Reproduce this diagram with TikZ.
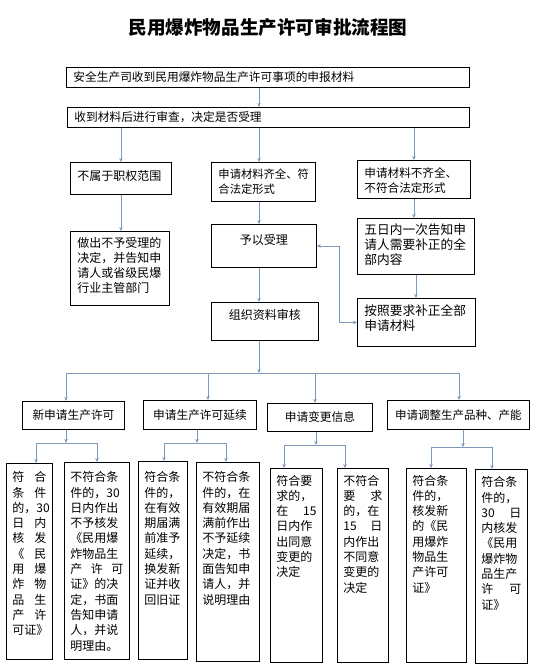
\documentclass[tikz,border=0pt]{standalone}
\usepackage{fontspec}
\setmainfont{Noto Sans CJK SC}
\usetikzlibrary{arrows.meta}
\definecolor{flow}{RGB}{125,152,184}
\tikzset{
  box/.style={draw, line width=0.9pt, anchor=north west, align=left,
    inner xsep=7pt, inner ysep=4pt, font=\fontsize{#1}{15.3}\selectfont},
  box/.default=12,
  cell/.style={box, inner xsep=6pt},
  line/.style={draw=flow, line width=0.8pt},
  arr/.style={line, -{Stealth[length=4pt,width=3.5pt]}},
}

\begin{document}
\begin{tikzpicture}[x=1pt, y=-1pt]
    \useasboundingbox (0,0) rectangle (533,668);
    \node[font=\fontsize{18.6}{20}\bfseries\selectfont] (title) at (268,27) {民用爆炸物品生产许可审批流程图};

    % receipt and first check
    \node[box=11.7, text width=389pt, minimum height=20pt] (apply) at (66,67) {安全生产司收到民用爆炸物品生产许可事项的申报材料};
    \node[box=11.7, text width=388pt, minimum height=20pt] (check) at (67,107) {收到材料后进行审查，决定是否受理};
    \coordinate (spine) at (259,0);

    % three outcomes of the check
    \node[box, text width=87pt, text height=13.6pt, text depth=10.4pt] (outside) at (70,162) {不属于职权范围};
    \node[box=11.3, text width=90pt, text height=11.6pt, text depth=19.4pt] (complete) at (211,162) {申请材料齐全、符\\合法定形式};
    \node[box=11.6, text width=99pt, text height=12.6pt, text depth=17.4pt] (incomplete) at (357,160) {申请材料不齐全、\\不符合法定形式};
    \node[box, text width=85pt, text height=11.6pt, text depth=54.4pt] (reject) at (70,231) {做出不予受理的\\决定，并告知申\\请人或省级民爆\\行业主管部门};
    \node[box, align=center, text width=91pt, text height=15.6pt, text depth=19.4pt] (accept) at (211,224) {予以受理};
    \node[box=12.7, text width=103pt, text height=11.6pt, text depth=36.4pt] (notify) at (357,218) {五日内一次告知申\\请人需要补正的全\\部内容};
    \node[box=12.7, text width=104pt, text height=12.6pt, text depth=27.4pt] (supply) at (357,298) {按照要求补正全部\\申请材料};
    \node[box, align=center, text width=93pt, text height=12.8pt, text depth=17.2pt] (review) at (211,302) {组织资料审核};

    \draw[arr] (apply.south -| spine) -- (check.north -| spine);
    \draw[arr] (check.south -| outside) -- (outside.north);
    \draw[arr] (check.south -| spine) -- (complete.north -| spine);
    \draw[arr] (check.south -| incomplete) -- (incomplete.north);
    \draw[arr] (outside.south) -- (outside.south |- reject.north);
    \draw[arr] (complete.south -| spine) -- (accept.north -| spine);
    \draw[arr] (accept.south -| spine) -- (review.north -| spine);
    \draw[arr] (incomplete.south) -- (incomplete.south |- notify.north);
    \draw[arr] (notify.south) -- (notify.south |- supply.north);
    \draw[line, {Stealth[length=4pt,width=3.5pt]}-{Stealth[length=4pt,width=3.5pt]}] (accept.east) -- ++(22,0) |- (supply.west);

    % kinds of application
    \coordinate (bus) at (0,373);
    \coordinate (b1) at (66,373);
    \coordinate (b2) at (208,373);
    \coordinate (b3) at (315,373);
    \coordinate (b4) at (459,373);
    \node[box=11.7, align=center, text width=88pt, minimum height=28pt] (new) at (22,401) {新申请生产许可};
    \node[box=11.7, align=center, text width=99pt, minimum height=29pt] (renew) at (143,400) {申请生产许可延续};
    \node[box=11.7, align=center, text width=91pt, minimum height=28pt] (change) at (267,403) {申请变更信息};
    \node[box=11.5, align=center, text width=128pt, minimum height=29pt] (adjust) at (387,400) {申请调整生产品种、产能};

    \draw[arr] (review.south -| spine) -- (spine |- bus);
    \draw[line] (b1) -- (b4);
    \draw[arr] (b1) -- (b1 |- new.north);
    \draw[arr] (b2) -- (b2 |- renew.north);
    \draw[arr] (b3) -- (b3 |- change.north);
    \draw[arr] (b4) -- (b4 |- adjust.north);

    % decisions
    \node[cell, text width=34pt, text height=14.3pt, text depth=173.7pt] (ok1) at (6,463) {符\hfill 合\\条\hfill 件\\的，30\\日\hfill 内\\核\hfill 发\\《\hfill 民\\用\hfill 爆\\炸\hfill 物\\品\hfill 生\\产\hfill 许\\可证》};
    \node[cell, text width=53pt, text height=15.3pt, text depth=173.7pt] (no1) at (64,462) {不符合条\\件的，30\\日内作出\\不予核发\\《民用爆\\炸物品生\\产\hfill 许\hfill 可\\证》的决\\定，书面\\告知申请\\人，并说\\明理由。};
    \node[cell, text width=37pt, text height=16.3pt, text depth=173.7pt] (ok2) at (138,461) {符合条\\件的，\\在有效\\期届满\\前准予\\延续，\\换发新\\证并收\\回旧证};
    \node[cell, text width=51pt, text height=15.3pt, text depth=175.7pt] (no2) at (196,462) {不符合条\\件的，在\\有效期届\\满前作出\\不予延续\\决定，书\\面告知申\\请人，并\\说明理由};
    \node[cell, text width=40pt, text height=12.6pt, text depth=173.4pt] (ok3) at (270,468) {符合要\\求的，\\在\hfill 15\\日内作\\出同意\\变更的\\决定};
    \node[cell, text width=39pt, text height=12.6pt, text depth=173.4pt] (no3) at (337,468) {不符合\\要\hfill 求\\的，在\\15\hfill 日\\内作出\\不同意\\变更的\\决定};
    \node[cell, text width=48pt, text height=12.6pt, text depth=173.4pt] (ok4) at (406,468) {符合条\\件的，\\核发新\\的《民\\用爆炸\\物品生\\产许可\\证》};
    \node[cell, text width=40pt, text height=13.3pt, text depth=172.7pt] (ok5) at (475,469) {符合条\\件的，\\30\hfill 日\\内核发\\《民用\\爆炸物\\品生产\\许\hfill 可\\证》};

    \coordinate (s1) at (66,443);
    \coordinate (l1) at (36,443);
    \coordinate (r1) at (97,443);
    \coordinate (s2) at (197,443);
    \coordinate (l2) at (164,443);
    \coordinate (r2) at (226,443);
    \coordinate (s3) at (316,445);
    \coordinate (l3) at (284,445);
    \coordinate (r3) at (345,445);
    \coordinate (s4) at (463,447);
    \coordinate (l4) at (431,447);
    \coordinate (r4) at (492,447);

    \draw[arr] (new.south -| s1) -- (s1);
    \draw[line] (l1) -- (r1);
    \draw[arr] (l1) -- (l1 |- ok1.north);
    \draw[arr] (r1) -- (r1 |- no1.north);
    \draw[arr] (renew.south -| s2) -- (s2);
    \draw[line] (l2) -- (r2);
    \draw[arr] (l2) -- (l2 |- ok2.north);
    \draw[arr] (r2) -- (r2 |- no2.north);
    \draw[arr] (change.south -| s3) -- (s3);
    \draw[line] (l3) -- (r3);
    \draw[arr] (l3) -- (l3 |- ok3.north);
    \draw[arr] (r3) -- (r3 |- no3.north);
    \draw[arr] (adjust.south -| s4) -- (s4);
    \draw[line] (l4) -- (r4);
    \draw[arr] (l4) -- (l4 |- ok4.north);
    \draw[arr] (r4) -- (r4 |- ok5.north);
\end{tikzpicture}
\end{document}
